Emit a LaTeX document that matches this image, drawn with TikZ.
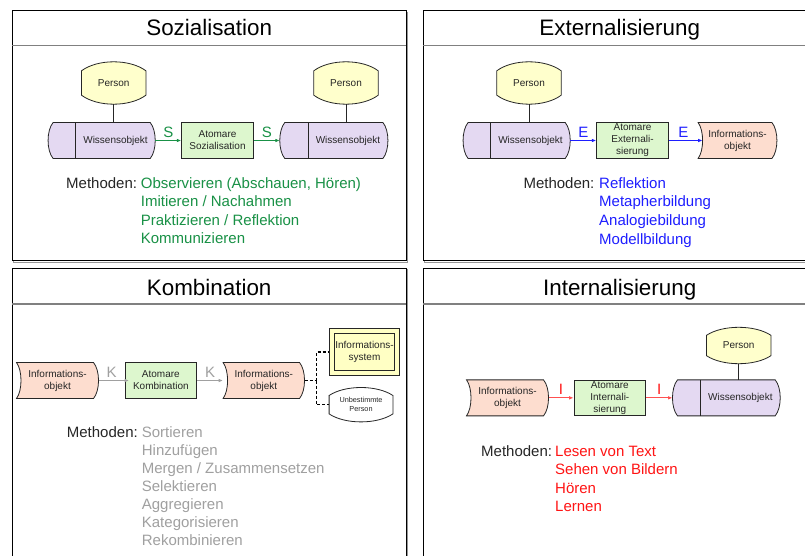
\documentclass[tikz,border=0pt]{standalone}
\usepackage{fontspec}
\setmainfont{Liberation Sans}
\usetikzlibrary{arrows.meta,calc,backgrounds}

\definecolor{persfill}{HTML}{FFFFCC}
\definecolor{wofill}{HTML}{E4D9F2}
\definecolor{atfill}{HTML}{DDF7CE}
\definecolor{iofill}{HTML}{FDDDCF}
\definecolor{isfill}{HTML}{FFFFC4}
\definecolor{sgreen}{RGB}{25,145,70}
\definecolor{eblue}{RGB}{30,30,255}
\definecolor{ired}{RGB}{255,20,20}
\definecolor{iredline}{RGB}{255,80,80}
\definecolor{kgray}{RGB}{160,160,160}
\definecolor{titlerule}{RGB}{128,128,128}
\definecolor{panelshade}{RGB}{150,150,150}

\tikzset{
  x=1pt, y=-1pt,
  every node/.style={font=\fontsize{10}{12}\selectfont, text=black!85, inner sep=0pt},
  paneltitle/.style={font=\fontsize{22.4}{26}\selectfont, text=black, anchor=base},
  meth/.style={font=\fontsize{15}{18}\selectfont, anchor=base west},
  atombox/.style={rectangle, draw=black!85, line width=0.8pt, fill=atfill,
                  minimum height=35.6pt, align=center},
  pers/.style={rectangle, minimum width=64pt, minimum height=42pt},
  wobj/.style={rectangle, minimum height=35.6pt},
  iobj/.style={rectangle, minimum height=35.6pt, align=center},
  flowarrow/.style={line width=1pt, -{Latex[length=4.5pt,width=3.6pt]}},
  flowlab/.style={font=\fontsize{15}{18}\selectfont, midway, above, yshift=2.5pt},
  shapeline/.style={draw=black!85, line width=0.8pt},
  stem/.style={draw=black!85, line width=0.8pt},
  dashconn/.style={draw=black, line width=1.4pt, dash pattern=on 3pt off 2pt},
}

% Person: vertical sides, arched top and bottom (#3 = arch height)
\newcommand\PersonShape[3]{%
  \path[shapeline, fill=#2]
    ($(#1.north west)+(0,#3)$)
    .. controls ($(#1.north west)!0.25!(#1.north east)+(0,-#3/3)$)
           and ($(#1.north west)!0.75!(#1.north east)+(0,-#3/3)$) .. ($(#1.north east)+(0,#3)$)
    -- ($(#1.south east)+(0,-#3)$)
    .. controls ($(#1.south west)!0.75!(#1.south east)+(0,#3/3)$)
           and ($(#1.south west)!0.25!(#1.south east)+(0,#3/3)$) .. ($(#1.south west)+(0,-#3)$)
    -- cycle;}

% Knowledge object: both ends bulging outwards, narrow left compartment
\newcommand\WissenShape[3]{%
  \path[shapeline, fill=wofill]
    ($(#1.north west)+(5,0)$) -- ($(#1.north east)+(-5,0)$)
    .. controls ($(#1.north east)+(1.7,8)$) and ($(#1.south east)+(1.7,-8)$) .. ($(#1.south east)+(-5,0)$)
    -- ($(#1.south west)+(5,0)$)
    .. controls ($(#1.south west)+(-1.7,-8)$) and ($(#1.north west)+(-1.7,8)$) .. ($(#1.north west)+(5,0)$) -- cycle;
  \draw[black!85, line width=#3] ($(#1.north west)+(#2,0)$) -- ($(#1.south west)+(#2,0)$);}

% Information object: both ends bent to the right
\newcommand\InfoShape[1]{%
  \path[shapeline, fill=iofill]
    (#1.north west) -- ($(#1.north east)+(-5,0)$)
    .. controls ($(#1.north east)+(1.7,8)$) and ($(#1.south east)+(1.7,-8)$) .. ($(#1.south east)+(-5,0)$)
    -- (#1.south west)
    .. controls ($(#1.south west)+(6,-8)$) and ($(#1.north west)+(6,8)$) .. (#1.north west) -- cycle;}

% Panel frame with shadow and title rule
\newcommand\PanelFrame[5]{%
  \draw[panelshade, line width=1.2pt] (#1+1.5,#2+1.5) rectangle (#3+1.5,#4+1.5);
  \draw[black, line width=1pt, fill=white] (#1,#2) rectangle (#3,#4);
  \draw[titlerule, line width=1.6pt] (#1,#5) -- (#3,#5);}

\begin{document}
\begin{tikzpicture}
\useasboundingbox (0,0) rectangle (805,556);

\begin{scope}[on background layer]
  \fill[white] (0,0) rectangle (805,556);
  \PanelFrame{12.3}{10.7}{406}{260.7}{45.7}
  \PanelFrame{423.3}{10.7}{816}{260.7}{45.7}
  \PanelFrame{12.3}{268}{406}{575}{304}
  \PanelFrame{423.3}{268}{816}{575}{304}
\end{scope}

% ---------- titles ----------
\node[paneltitle] (t1) at (209.2,35.5) {Sozialisation};
\node[paneltitle] (t2) at (619.7,35.5) {Externalisierung};
\node[paneltitle] (t3) at (209.2,295) {Kombination};
\node[paneltitle] (t4) at (619.7,295) {Internalisierung};

% ---------- Sozialisation ----------
\node[pers] (p1) at (113.7,83) {Person};
\node[wobj, minimum width=106.7pt, label={[xshift=13.9pt]center:Wissensobjekt}] (w1) at (101.65,140.5) {};
\node[atombox, minimum width=71.6pt] (a1) at (217.5,140.5) {Atomare\\Sozialisation};
\node[wobj, minimum width=107.7pt, label={[xshift=14.15pt]center:Wissensobjekt}] (w2) at (333.85,140.5) {};
\node[pers] (p2) at (346,83) {Person};

\draw[stem] (p1.south) -- (p1.south |- w1.north);
\draw[stem] (p2.south) -- (p2.south |- w2.north);
\draw[flowarrow, sgreen] (w1.east) -- (a1.west) node[flowlab, text=sgreen] {S};
\draw[flowarrow, sgreen] (a1.east) -- (w2.west) node[flowlab, text=sgreen] {S};

\node[meth] (sm0) at (66,188.2) {Methoden:};
\foreach \txt [count=\k] in {{Observieren (Abschauen, Hören)}, {Imitieren / Nachahmen}, {Praktizieren / Reflektion}, {Kommunizieren}}
  \node[meth, text=sgreen] (sm\k) at (140.7,188.2+18.5*\k-18.5) {\txt};

% ---------- Externalisierung ----------
\node[pers] (p3) at (529,83) {Person};
\node[wobj, minimum width=106.7pt, label={[xshift=13.85pt]center:Wissensobjekt}] (w3) at (516.65,140.5) {};
\node[atombox, minimum width=71.6pt] (a3) at (632.5,140.5) {Atomare\\Externali-\\sierung};
\node[iobj, minimum width=78.4pt] (i3) at (737.5,140.5) {Informations-\\objekt};

\draw[stem] (p3.south) -- (p3.south |- w3.north);
\draw[flowarrow, eblue] (w3.east) -- (a3.west) node[flowlab, text=eblue] {E};
\draw[flowarrow, eblue, shorten >=-4.5pt] (a3.east) -- (i3.west) node[flowlab, text=eblue] {E};

\node[meth] (em0) at (523.3,188.5) {Methoden:};
\foreach \txt [count=\k] in {Reflektion, Metapherbildung, Analogiebildung, Modellbildung}
  \node[meth, text=eblue] (em\k) at (599,188.5+18.5*\k-18.5) {\txt};

% ---------- Kombination ----------
\node[iobj, minimum width=81.6pt] (i4) at (57.5,380.5) {Informations-\\objekt};
\node[atombox, minimum width=71.7pt] (a4) at (160.85,380.5) {Atomare\\Kombination};
\node[iobj, minimum width=81pt] (i5) at (263.8,380.5) {Informations-\\objekt};
\node[rectangle, draw=black!85, line width=0.7pt, double=isfill, double distance=4.3pt,
      fill=isfill, minimum width=65.3pt, minimum height=41.7pt, align=center]
      (isys) at (364.5,352) {Informations-\\system};
\node[rectangle, minimum width=63.4pt, minimum height=34pt, align=center,
      font=\fontsize{7.3}{9}\selectfont] (up) at (361,404.7) {Unbestimmte\\Person};

\draw[flowarrow, kgray, shorten >=-4.5pt] (i4.east) -- (a4.west) node[flowlab, text=kgray] {K};
\draw[flowarrow, kgray] (a4.east) -- (i5.west) node[flowlab, text=kgray] {K};

\coordinate (kj) at ($(i5.east)+(11.7,0)$);
\draw[dashconn] (i5.east) -- (kj);
\draw[dashconn, shorten >=2.85pt] (kj) |- (isys.west);
\draw[dashconn] (kj) |- (up.west);

\node[meth] (km0) at (66.7,437.2) {Methoden:};
\foreach \txt [count=\k] in {Sortieren, Hinzufügen, {Mergen / Zusammensetzen}, Selektieren, Aggregieren, Kategorisieren, Rekombinieren}
  \node[meth, text=kgray] (km\k) at (141.7,437.2+18.1*\k-18.1) {\txt};

% ---------- Internalisierung ----------
\node[pers, minimum height=36pt] (p6) at (738.7,345.5) {Person};
\node[iobj, minimum width=81.6pt] (i6) at (507.5,397.85) {Informations-\\objekt};
\node[atombox, minimum width=71.7pt] (a6) at (609.85,397.85) {Atomare\\Internali-\\sierung};
\node[wobj, minimum width=107.3pt, label={[xshift=14pt]center:Wissensobjekt}] (w6) at (726.35,397.85) {};

\draw[stem] (p6.south) -- (p6.south |- w6.north);
\draw[flowarrow, iredline] (i6.east) -- (a6.west) node[flowlab, text=ired] {I};
\draw[flowarrow, iredline] (a6.east) -- (w6.west) node[flowlab, text=ired] {I};

\node[meth] (im0) at (481,456.2) {Methoden:};
\foreach \txt [count=\k] in {Lesen von Text, Sehen von Bildern, Hören, Lernen}
  \node[meth, text=ired] (im\k) at (555,456.2+18.4*\k-18.4) {\txt};

% ---------- shape outlines behind the labels ----------
\begin{scope}[on background layer]
  \PersonShape{p1}{persfill}{9}
  \PersonShape{p2}{persfill}{9}
  \PersonShape{p3}{persfill}{9}
  \PersonShape{p6}{persfill}{8}
  \PersonShape{up}{white}{8}
  \WissenShape{w1}{27.7}{0.8pt}
  \WissenShape{w2}{28.3}{0.8pt}
  \WissenShape{w3}{27.7}{0.8pt}
  \WissenShape{w6}{28}{1.8pt}
  \InfoShape{i3}
  \InfoShape{i4}
  \InfoShape{i5}
  \InfoShape{i6}
\end{scope}
\end{tikzpicture}
\end{document}
